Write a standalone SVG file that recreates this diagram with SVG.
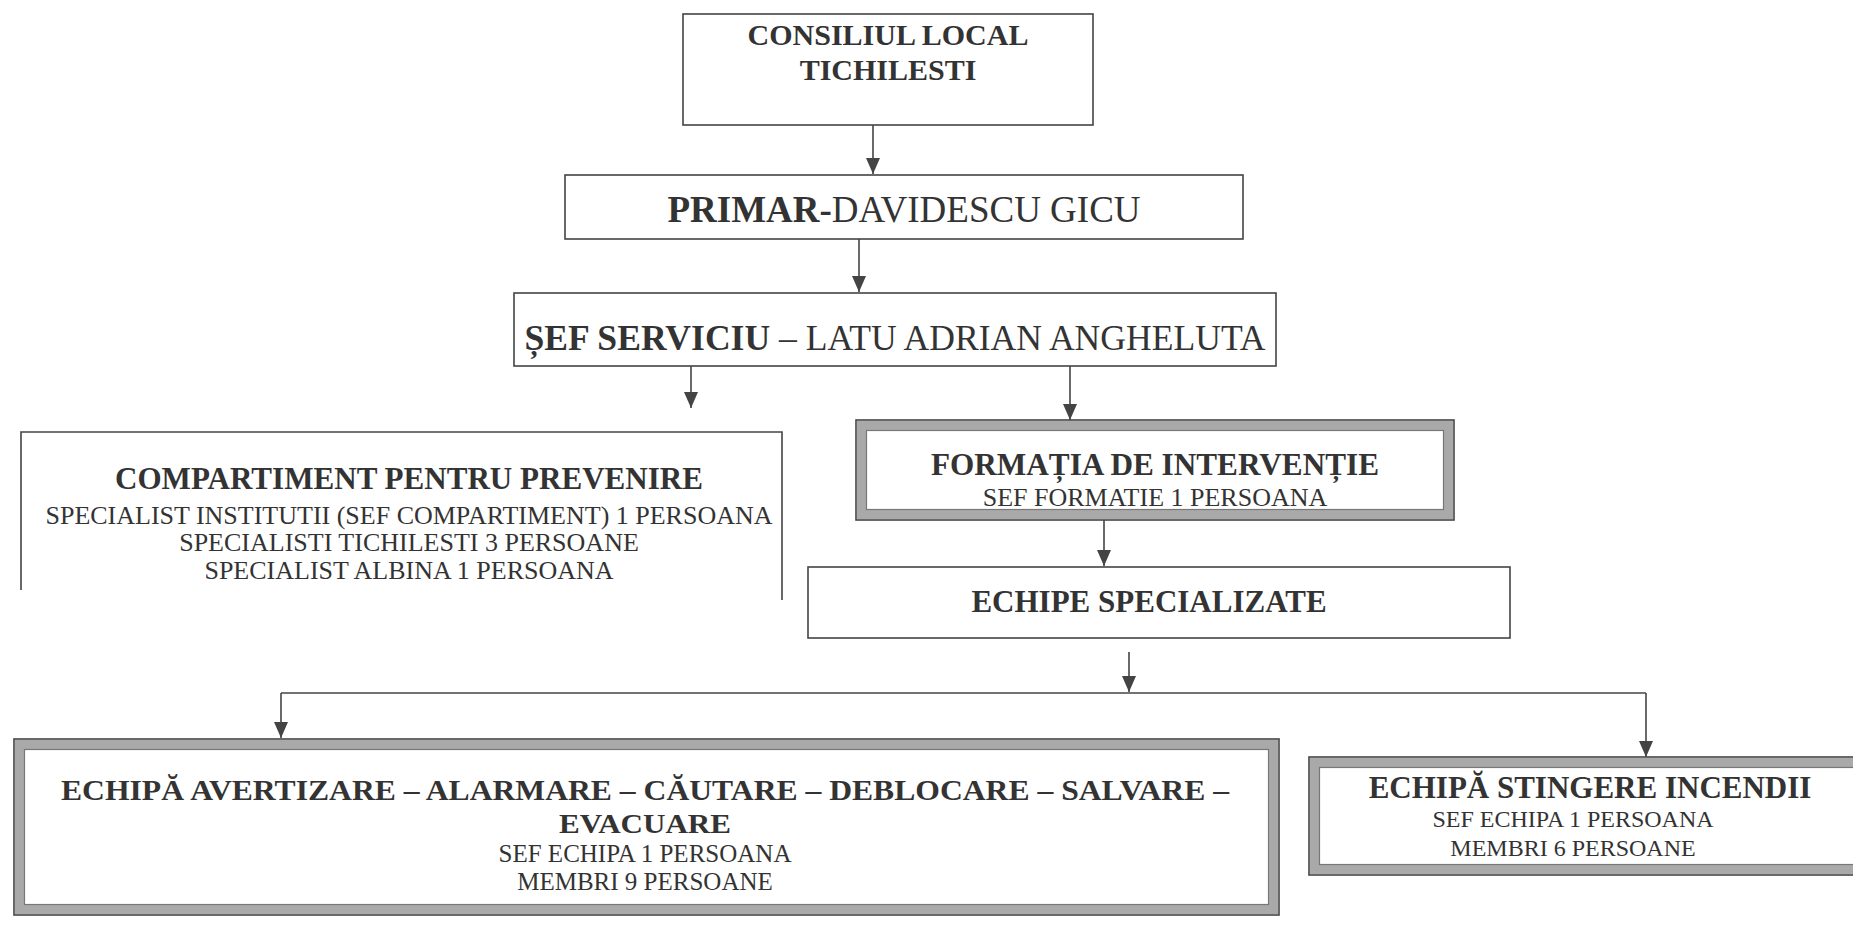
<svg xmlns="http://www.w3.org/2000/svg" width="1853" height="925" viewBox="0 0 1853 925">
<style>
.box{fill:#fff;stroke:#444;stroke-width:1.6}
.band{fill:none;stroke:#a9a9a9;stroke-width:9}
.inner{fill:none;stroke:#777;stroke-width:1.2}
.t{font-family:"Liberation Serif","Times New Roman",serif;fill:#333;text-anchor:middle}
.b{font-weight:bold}
.conn line,.conn path{stroke:#444;stroke-width:1.6;fill:none}
</style>
<defs>
<marker id="ad" markerUnits="userSpaceOnUse" markerWidth="14" markerHeight="16" viewBox="0 0 14 16" refX="7" refY="16" orient="0">
<path d="M0,0 L14,0 L7,16 Z" fill="#444"/>
</marker>
</defs>
<rect width="1853" height="925" fill="#fff"/>

<g class="conn">
<line x1="873" y1="125" x2="873" y2="174" marker-end="url(#ad)"/>
<line x1="859" y1="239" x2="859" y2="292" marker-end="url(#ad)"/>
<line x1="691" y1="366" x2="691" y2="408" marker-end="url(#ad)"/>
<line x1="1070" y1="366" x2="1070" y2="420" marker-end="url(#ad)"/>
<line x1="1104" y1="520" x2="1104" y2="566" marker-end="url(#ad)"/>
<line x1="1129" y1="652" x2="1129" y2="692" marker-end="url(#ad)"/>
<path d="M281,693 H1646"/>
<line x1="281" y1="693" x2="281" y2="738" marker-end="url(#ad)"/>
<line x1="1646" y1="693" x2="1646" y2="757" marker-end="url(#ad)"/>
</g>

<g id="consiliul">
<rect class="box" x="683" y="14" width="410" height="111"/>
<text class="t b" x="888" y="45" font-size="30">CONSILIUL LOCAL</text>
<text class="t b" x="888" y="80" font-size="30">TICHILESTI</text>
</g>

<g id="primar">
<rect class="box" x="565" y="175" width="678" height="64"/>
<text class="t" x="904" y="222" font-size="37"><tspan class="b">PRIMAR-</tspan><tspan>DAVIDESCU GICU</tspan></text>
</g>

<g id="sef">
<rect class="box" x="514" y="293" width="762" height="73"/>
<text class="t" x="895" y="350" font-size="36" textLength="741" lengthAdjust="spacingAndGlyphs"><tspan class="b">ȘEF SERVICIU</tspan><tspan> – LATU ADRIAN ANGHELUTA</tspan></text>
</g>

<g id="compartiment">
<path d="M21,590 V432 H782 V600" fill="#fff" stroke="#444" stroke-width="1.6"/>
<text class="t b" x="409" y="489" font-size="31" textLength="588" lengthAdjust="spacingAndGlyphs">COMPARTIMENT PENTRU PREVENIRE</text>
<text class="t" x="409" y="524" font-size="26" textLength="727" lengthAdjust="spacingAndGlyphs">SPECIALIST INSTITUTII (SEF COMPARTIMENT) 1 PERSOANA</text>
<text class="t" x="409" y="551" font-size="26">SPECIALISTI TICHILESTI 3 PERSOANE</text>
<text class="t" x="409" y="579" font-size="26">SPECIALIST ALBINA 1 PERSOANA</text>
</g>

<g id="formatia">
<rect class="box" x="856" y="420" width="598" height="100"/>
<rect class="band" x="861.5" y="425.5" width="587" height="89"/>
<rect class="inner" x="866.5" y="430.5" width="577" height="79"/>
<text class="t b" x="1155" y="475" font-size="31" textLength="448" lengthAdjust="spacingAndGlyphs">FORMAȚIA DE INTERVENȚIE</text>
<text class="t" x="1155" y="506" font-size="26">SEF FORMATIE 1 PERSOANA</text>
</g>

<g id="echipe">
<rect class="box" x="808" y="567" width="702" height="71"/>
<text class="t b" x="1149" y="612" font-size="31">ECHIPE SPECIALIZATE</text>
</g>

<g id="avertizare">
<rect class="box" x="14" y="739" width="1265" height="176"/>
<rect class="band" x="19.5" y="744.5" width="1254" height="165"/>
<rect class="inner" x="24.5" y="749.5" width="1244" height="155"/>
<text class="t b" x="645" y="800" font-size="29" textLength="1168" lengthAdjust="spacingAndGlyphs">ECHIPĂ AVERTIZARE – ALARMARE – CĂUTARE – DEBLOCARE – SALVARE –</text>
<text class="t b" x="645" y="833" font-size="28" textLength="172" lengthAdjust="spacingAndGlyphs">EVACUARE</text>
<text class="t" x="645" y="862" font-size="25">SEF ECHIPA 1 PERSOANA</text>
<text class="t" x="645" y="890" font-size="25">MEMBRI 9 PERSOANE</text>
</g>

<g id="stingere">
<rect class="box" x="1309" y="757" width="560" height="118"/>
<rect class="band" x="1314.5" y="762.5" width="560" height="107"/>
<rect class="inner" x="1319.5" y="767.5" width="560" height="97"/>
<text class="t b" x="1590" y="798" font-size="31">ECHIPĂ STINGERE INCENDII</text>
<text class="t" x="1573" y="827" font-size="24">SEF ECHIPA 1 PERSOANA</text>
<text class="t" x="1573" y="856" font-size="24">MEMBRI 6 PERSOANE</text>
</g>
</svg>
